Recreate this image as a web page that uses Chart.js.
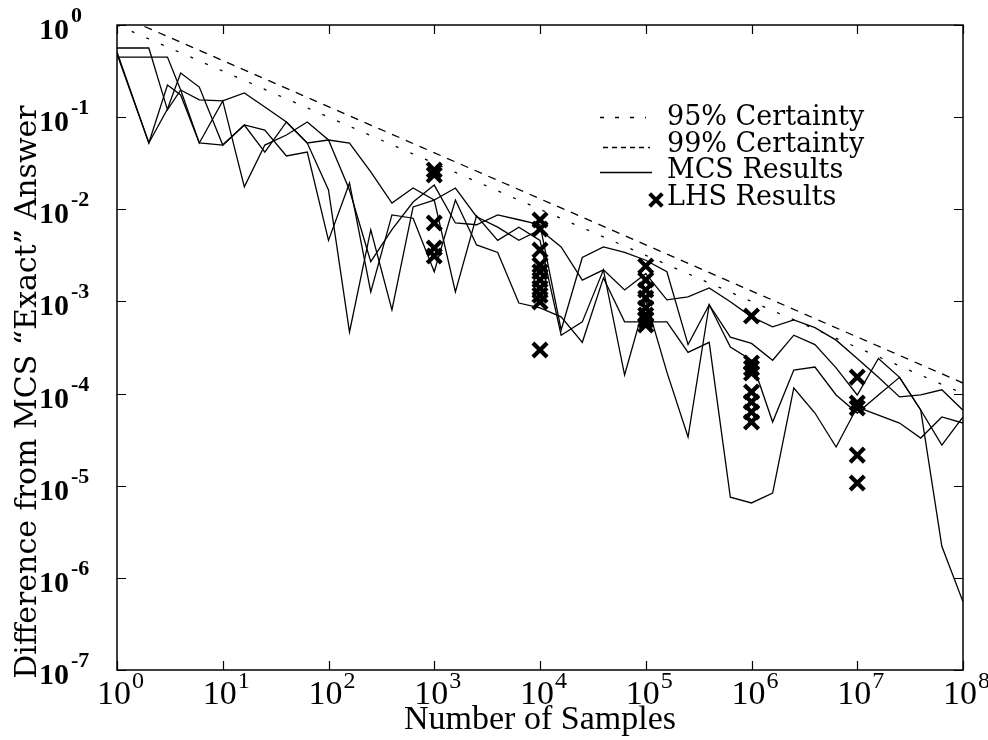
<!DOCTYPE html>
<html>
<head>
<meta charset="utf-8">
<script src="https://cdn.jsdelivr.net/npm/chart.js@4/dist/chart.umd.min.js"></script>
<style>
  html, body { margin: 0; padding: 0; background: #ffffff; }
  #c { display: block; }
</style>
</head>
<body>
<canvas id="c" width="988" height="740"></canvas>
<script>
// ---- data ----
const sampleSizes = [1, 2, 3, 4, 6, 10, 16, 25, 40, 63, 100, 158, 251, 398, 631, 1000, 1585, 2512, 3981, 6310,
  10000, 15849, 25119, 39811, 63096, 100000, 158489, 251189, 398107, 630957, 1000000, 1584893, 2511886, 3981072,
  6309573, 10000000, 15848932, 25118864, 39810717, 63095734, 100000000];

const mcsRun1 = [0.563, 0.563, 0.12, 0.197, 0.154, 0.15, 0.183, 0.129, 0.0886, 0.0524, 0.0565, 0.0524, 0.0254, 0.0117,
  0.017, 0.0126, 0.017, 0.0083, 0.0064, 0.0046, 0.006, 0.0039, 0.0017, 0.0022, 0.00133, 0.002, 0.00104, 0.00112,
  0.0014, 0.00099, 0.00068, 0.00053, 0.00063, 0.00052, 0.00038, 0.00024, 0.00015, 0.000092, 0.000097, 0.00011, 0.000066];
const mcsRun2 = [0.449, 0.449, 0.449, 0.197, 0.0524, 0.15, 0.0175, 0.0498, 0.064, 0.0886, 0.0565, 0.0162, 0.0027, 0.006,
  0.012, 0.0183, 0.0071, 0.0068, 0.0087, 0.0077, 0.0068, 0.00049, 0.003, 0.0039, 0.0034, 0.0028, 0.0021, 0.00034,
  0.00092, 0.00041, 0.00035, 0.00023, 0.00043, 0.00034, 0.00019, 0.0000965, 0.00024, 0.00015, 0.0000663, 0.0000022, 5.5e-7];
const mcsRun3 = [0.509, 0.0524, 0.223, 0.174, 0.0524, 0.0498, 0.0822, 0.0725, 0.0379, 0.0418, 0.0046, 0.0193, 0.00127,
  0.0087, 0.008, 0.0021, 0.0126, 0.0041, 0.0034, 0.00096, 0.00085, 0.00068, 0.00036, 0.0018, 0.0006, 0.0006, 0.0006,
  0.00028, 0.00036, 0.0000075, 0.0000065, 0.0000083, 0.000115, 0.0000615, 0.0000263, 0.0000714, 0.0000585, 0.0000479,
  0.0000329, 0.0000557, 0.0000479];
const mcsRun4 = [0.484, 0.0524, 0.1226, 0.301, 0.212, 0.0498, 0.0822, 0.0418, 0.0886, 0.0524, 0.0162, 0.000466, 0.006,
  0.00081, 0.0106, 0.0126, 0.00127, 0.0085, 0.0046, 0.0064, 0.0046, 0.00043, 0.0006, 0.0022, 0.000159, 0.00104,
  0.000171, 0.0000338, 0.00092, 0.00032, 0.00023, 0.0000491, 0.00018, 0.000194, 0.0000965, 0.0000615, 0.0000965,
  0.00015, 0.0000663, 0.0000276, 0.0000557];

const lhsSamples = [1000, 1000, 1000, 1000, 1000,
  10000, 10000, 10000, 10000, 10000, 10000, 10000, 10000, 10000, 10000,
  100000, 100000, 100000, 100000, 100000, 100000, 100000, 100000,
  1000000, 1000000, 1000000, 1000000, 1000000, 1000000, 1000000, 1000000,
  10000000, 10000000, 10000000, 10000000, 10000000];
const lhsDiff = [0.0267, 0.0236, 0.0071, 0.0038, 0.00311,
  0.00765, 0.00611, 0.00361, 0.00248, 0.00209, 0.00171, 0.0014, 0.00117, 0.00099, 0.000297,
  0.00242, 0.00171, 0.00133, 0.00109, 0.00085, 0.000712, 0.00063, 0.000555,
  0.000695, 0.000215, 0.000189, 0.000167, 0.000104, 0.000081, 0.000063, 0.0000491,
  0.000151, 0.000079, 0.0000697, 0.0000215, 0.0000107];

const boundSamples = [1, 100000000];
const certainty95 = [1.0, 0.0001];
const certainty99 = [1.3, 0.00013];

const xTickExponents = [0, 1, 2, 3, 4, 5, 6, 7, 8];
const yTickExponents = [0, -1, -2, -3, -4, -5, -6, -7];

const legendLabels = ['95% Certainty', '99% Certainty', 'MCS Results', 'LHS Results'];
const xTitle = 'Number of Samples';
const yTitle = 'Difference from MCS \u201CExact\u201D Answer';

// ---- build datasets ----
const pts = (xs, ys) => xs.map((x, i) => ({ x: x, y: ys[i] }));
const lineStyle = { borderColor: '#000', borderWidth: 1.3, pointRadius: 0, fill: false, tension: 0 };

const datasets = [
  Object.assign({ label: 'MCS 1', data: pts(sampleSizes, mcsRun1) }, lineStyle),
  Object.assign({ label: 'MCS 2', data: pts(sampleSizes, mcsRun2) }, lineStyle),
  Object.assign({ label: 'MCS 3', data: pts(sampleSizes, mcsRun3) }, lineStyle),
  Object.assign({ label: 'MCS 4', data: pts(sampleSizes, mcsRun4) }, lineStyle),
  { label: legendLabels[0], data: pts(boundSamples, certainty95), borderColor: '#000', borderWidth: 1.3,
    borderDash: [3, 13], pointRadius: 0, fill: false },
  { label: legendLabels[1], data: pts(boundSamples, certainty99), borderColor: '#000', borderWidth: 1.3,
    borderDash: [8, 7], pointRadius: 0, fill: false },
  { label: legendLabels[3], type: 'scatter', data: pts(lhsSamples, lhsDiff), showLine: false,
    pointStyle: 'crossRot', pointRadius: 10, pointHoverRadius: 10, borderColor: '#000', backgroundColor: '#000',
    pointBorderWidth: 4.2, borderWidth: 4.2 }
];

const decorPlugin = {
  id: 'decor',
  afterDraw(chart) {
    const ctx = chart.ctx;
    const ca = chart.chartArea;
    const xs = chart.scales.x, ys = chart.scales.y;
    ctx.save();
    ctx.strokeStyle = '#000';
    ctx.fillStyle = '#000';
    ctx.setLineDash([]);
    // frame
    ctx.lineWidth = 1.5;
    ctx.strokeRect(ca.left, ca.top, ca.right - ca.left, ca.bottom - ca.top);
    // inward ticks
    ctx.lineWidth = 1.2;
    const tl = 9;
    xTickExponents.forEach(e => {
      const px = Math.round(xs.getPixelForValue(Math.pow(10, e))) + 0.5;
      ctx.beginPath();
      ctx.moveTo(px, ca.bottom); ctx.lineTo(px, ca.bottom - tl);
      ctx.moveTo(px, ca.top); ctx.lineTo(px, ca.top + tl);
      ctx.stroke();
    });
    yTickExponents.forEach(e => {
      const py = Math.round(ys.getPixelForValue(Math.pow(10, e))) + 0.5;
      ctx.beginPath();
      ctx.moveTo(ca.left, py); ctx.lineTo(ca.left + tl, py);
      ctx.moveTo(ca.right, py); ctx.lineTo(ca.right - tl, py);
      ctx.stroke();
    });
    // x tick labels
    ctx.textBaseline = 'alphabetic';
    xTickExponents.forEach(e => {
      const px = xs.getPixelForValue(Math.pow(10, e));
      ctx.font = '34px "Liberation Serif"';
      const w = ctx.measureText('10').width;
      const left = px - w / 2 - 3;
      ctx.textAlign = 'left';
      ctx.fillText('10', left, ca.bottom + 34);
      ctx.font = '24px "Liberation Serif"';
      ctx.fillText(String(e), left + w + 1, ca.bottom + 18);
    });
    // y tick labels
    yTickExponents.forEach(e => {
      const py = ys.getPixelForValue(Math.pow(10, e));
      ctx.textAlign = 'left';
      ctx.font = 'bold 30px "Liberation Serif"';
      const w = ctx.measureText('10').width;
      ctx.fillText('10', 39, py + 14);
      ctx.font = 'bold 22px "Liberation Serif"';
      ctx.fillText(String(e), 39 + w + 2, py - 3);
    });
    // axis titles
    ctx.font = '34px "Liberation Serif"';
    ctx.textAlign = 'center';
    ctx.fillText(xTitle, (ca.left + ca.right) / 2, 729);
    ctx.save();
    ctx.translate(36, 392);
    ctx.rotate(-Math.PI / 2);
    ctx.font = '30px "DejaVu Serif"';
    ctx.fillText(yTitle, 0, 0);
    ctx.restore();
    // legend
    ctx.textAlign = 'left';
    ctx.font = '27px "DejaVu Serif"';
    const tx = 667;
    const baselines = [125, 152, 178, 205];
    legendLabels.forEach((t, i) => ctx.fillText(t, tx, baselines[i]));
    ctx.lineWidth = 1.3;
    ctx.setLineDash([4, 11]);
    ctx.beginPath(); ctx.moveTo(600, 117.5); ctx.lineTo(646, 117.5); ctx.stroke();
    ctx.setLineDash([5, 4]);
    ctx.beginPath(); ctx.moveTo(603, 147.5); ctx.lineTo(650, 147.5); ctx.stroke();
    ctx.setLineDash([]);
    ctx.beginPath(); ctx.moveTo(600, 172.5); ctx.lineTo(652, 172.5); ctx.stroke();
    ctx.lineWidth = 4;
    const mx = 656, my = 200, r = 6.3;
    ctx.beginPath();
    ctx.moveTo(mx - r, my - r); ctx.lineTo(mx + r, my + r);
    ctx.moveTo(mx - r, my + r); ctx.lineTo(mx + r, my - r);
    ctx.stroke();
    ctx.restore();
  }
};

new Chart(document.getElementById('c'), {
  type: 'line',
  data: { datasets: datasets },
  options: {
    responsive: false,
    animation: false,
    devicePixelRatio: 1,
    layout: { padding: { top: 25, right: 25, left: 0, bottom: 0 } },
    plugins: { legend: { display: false }, tooltip: { enabled: false } },
    scales: {
      x: {
        type: 'logarithmic', min: 1, max: 100000000,
        grid: { display: false }, border: { display: false },
        ticks: { display: false },
        afterFit(scale) { scale.height = 70; }
      },
      y: {
        type: 'logarithmic', min: 0.0000001, max: 1,
        grid: { display: false }, border: { display: false },
        ticks: { display: false },
        afterFit(scale) { scale.width = 117; }
      }
    }
  },
  plugins: [decorPlugin]
});
</script>
</body>
</html>
